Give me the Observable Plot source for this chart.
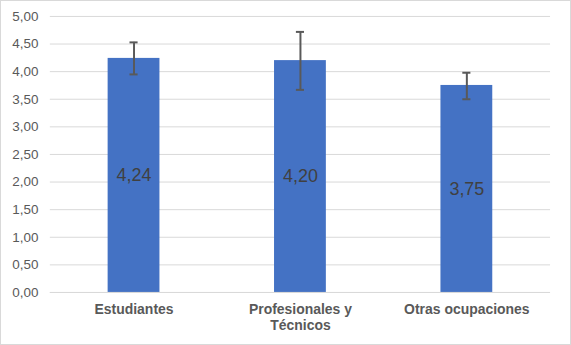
<!DOCTYPE html>
<html>
<head>
<meta charset="utf-8">
<script src="https://cdn.jsdelivr.net/npm/d3@7"></script>
<script src="https://cdn.jsdelivr.net/npm/@observablehq/plot@0.6"></script>
<style>
  html, body { margin: 0; padding: 0; background: #fff; }
  #chart { position: relative; width: 571px; height: 345px; box-sizing: border-box; border: 1px solid #d9d9d9; overflow: hidden; }
  #chart svg { position: absolute; left: -1px; top: -1px; }
</style>
</head>
<body>
<div id="chart"></div>
<script>
const categories = ["Estudiantes", "Profesionales y Técnicos", "Otras ocupaciones"];
const means = [4.24, 4.20, 3.75];
const lowers = [3.95, 3.67, 3.50];
const uppers = [4.53, 4.72, 3.98];
const yTicks = [0, 0.5, 1, 1.5, 2, 2.5, 3, 3.5, 4, 4.5, 5];
const xTickLabels = {"Profesionales y Técnicos": "Profesionales y\nTécnicos"};

const data = categories.map((c, i) => ({cat: c, mean: means[i], lo: lowers[i], hi: uppers[i]}));
const fmt = v => d3.format(".2f")(v).replace(".", ",");

const bandwidth = (571 - 50 - 19) / 3 * 0.31;
const capInset = (bandwidth - 8) / 2;

const plot = Plot.plot({
  width: 571,
  height: 345,
  marginLeft: 50,
  marginRight: 19,
  marginTop: 16,
  marginBottom: 52,
  style: {fontFamily: "Arial, 'Liberation Sans', sans-serif", background: "transparent"},
  x: {domain: categories, paddingInner: 0.69, paddingOuter: 0.345, align: 0.5, label: null},
  y: {domain: [0, 5], label: null},
  marks: [
    Plot.gridY(yTicks, {stroke: "#d9d9d9", strokeOpacity: 1, strokeWidth: 1}),
    Plot.barY(data, {x: "cat", y: "mean", fill: "#4472C4"}),
    Plot.ruleY([0], {stroke: "#d9d9d9", strokeWidth: 1}),
    Plot.ruleX(data, {x: "cat", y1: "lo", y2: "hi", stroke: "#595959", strokeWidth: 2}),
    Plot.tickY(data, {x: "cat", y: "lo", stroke: "#595959", strokeWidth: 2, insetLeft: capInset, insetRight: capInset}),
    Plot.tickY(data, {x: "cat", y: "hi", stroke: "#595959", strokeWidth: 2, insetLeft: capInset, insetRight: capInset}),
    Plot.text(data, {x: "cat", y: d => d.mean / 2, text: d => fmt(d.mean), fill: "#404040", fontSize: 18}),
    Plot.axisY(yTicks, {tickFormat: fmt, tickSize: 0, tickPadding: 12, fontSize: 13.5, fill: "#595959", label: null}),
    Plot.axisX({tickSize: 0, tickPadding: 10, fontSize: 14, fontWeight: "bold", fill: "#595959", lineHeight: 1.15, tickFormat: d => xTickLabels[d] || d, label: null})
  ]
});
document.getElementById("chart").appendChild(plot);
</script>
</body>
</html>
